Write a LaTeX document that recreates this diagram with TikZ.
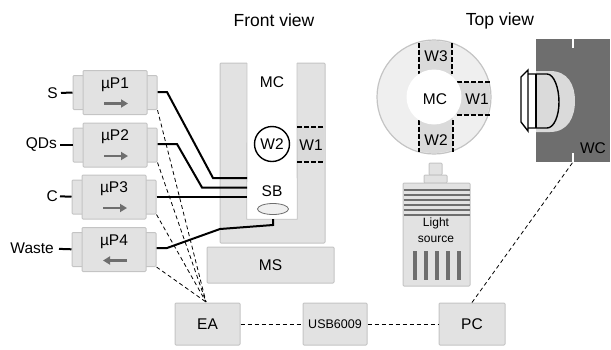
\documentclass[tikz,border=0pt]{standalone}
\usepackage{fontspec}
\setmainfont{Liberation Sans}
\usetikzlibrary{positioning,arrows.meta,shapes.geometric}
\definecolor{boxgray}{HTML}{E2E2E2}
\definecolor{edgegray}{HTML}{C4C4C4}
\definecolor{ringgray}{HTML}{EFEFEF}
\definecolor{wingray}{HTML}{DADADA}
\definecolor{markgray}{HTML}{6E6E6E}
\tikzset{
	grbox/.style={draw=edgegray,fill=boxgray,line width=1pt,inner sep=0pt,rounded corners=1pt},
	pumpbody/.style={grbox,minimum width=64pt,minimum height=44pt},
	pumptab/.style={grbox,minimum width=12pt,minimum height=34pt},
	ctrlbox/.style={grbox,minimum width=65pt,minimum height=42pt},
	lbl/.style={font=\fontsize{15.5}{15.5}\selectfont,inner sep=0pt},
	smalllbl/.style={font=\fontsize{12.5}{12.5}\selectfont,inner sep=0pt},
	titlelbl/.style={font=\fontsize{17.5}{17.5}\selectfont,inner sep=0pt},
	tube/.style={line width=2pt,black},
	wire/.style={line width=0.8pt,dash pattern=on 4pt off 3pt},
	win/.style={line width=1.4pt,dash pattern=on 4.5pt off 2.5pt},
	flow/.style={line width=2.4pt,markgray,-{Triangle[length=7pt,width=8pt]}}
}
\begin{document}
\begin{tikzpicture}[x=1pt,y=-1pt]
	\useasboundingbox (0,0) rectangle (611,349);

	% titles
	\node[titlelbl] (front) at (274,20) {Front view};
	\node[titlelbl] (top) at (500,21) {Top view};

	% pumps
	\foreach \n/\x/\y in {1/115/92.5,2/115/145,3/114/197,4/114/249.5}{
		\node[pumptab] (tl\n) at (\x-36,\y) {};
		\node[pumptab] (tr\n) at (\x+36,\y) {};
		\node[pumpbody] (p\n) at (\x,\y) {};
		\node[lbl] (pl\n) at (\x,\y-8) {µP\n};
		\coordinate (ta\n) at (\x-11,\y+11);
		\coordinate (tb\n) at (\x+13,\y+11);
	}
	\draw[flow] (ta1) -- (tb1);
	\draw[flow] (ta2) -- (tb2);
	\draw[flow] (ta3) -- (tb3);
	\draw[flow] (tb4) -- (ta4);

	% inlets
	\node[lbl,anchor=east] (s) at (58,93) {S};
	\node[lbl,anchor=east] (qd) at (57,145) {QDs};
	\node[lbl,anchor=east] (c) at (58,196) {C};
	\node[lbl,anchor=east] (waste) at (54,248) {Waste};
	\draw[tube,shorten <=3pt] (s) -- (tl1);
	\draw[tube,shorten <=3pt] (qd) -- (tl2);
	\draw[tube,shorten <=2pt] (c) -- (tl3);
	\draw[tube,shorten <=5pt] (waste) -- (tl4);

	% front view
	\node[grbox,minimum width=105pt,minimum height=180pt] (mount) at (272.5,153) {};
	\node[grbox,lbl,minimum width=127pt,minimum height=36pt] (ms) at (270.5,265) {MS};
	\fill[wingray] (297,127) rectangle (325,162);
	\node[fill=white,minimum width=50pt,minimum height=159pt,inner sep=0pt] (mc) at (272,139.5) {};
	\draw[edgegray,line width=0.8pt] (247,63) -- (mc.south west) -- (mc.south east) -- (297,63);
	\node[lbl] (mcl) at (272,82) {MC};
	\node[lbl,draw,circle,line width=1.4pt,minimum size=35pt] (w2) at (272,144) {W2};
	\node[lbl] (w1) at (311,145) {W1};
	\node[lbl] (sb) at (272,191) {SB};
	\node[draw=markgray,fill=ringgray,ellipse,line width=0.8pt,minimum width=31pt,minimum height=11pt,inner sep=0pt] (stir) at (273,209) {};
	\draw[win] (297,127) -- (325,127);
	\draw[win] (297,162) -- (325,162);

	% tubes to the cell
	\coordinate (i1) at (247,178);
	\coordinate (i2) at (247,187.5);
	\coordinate (i3) at (247,197);
	\coordinate (i4) at (273,219);
	\draw[tube] (tr1.east |- 0,92) -- (167,92) -- (213,178) -- (i1);
	\draw[tube] (tr2.east |- 0,144) -- (177,144) -- (202,187.5) -- (i2);
	\draw[tube] (tr3.east |- 0,197) -- (i3);
	\draw[tube] (tr4.east |- 0,248) -- (167,248) -- (220,229) -- (273,225) -- (i4);

	% controller row
	\node[ctrlbox,lbl] (ea) at (207.5,324) {EA};
	\node[ctrlbox,smalllbl,minimum width=64pt] (usb) at (335,324) {USB6009};
	\node[ctrlbox,lbl,minimum width=66pt] (pc) at (472,324) {PC};
	\draw[wire] (ea) -- (usb);
	\draw[wire] (usb) -- (pc);
	\coordinate (eatop) at (206,302);
	\foreach \n in {1,2,3,4}
		\draw[wire] (tr\n.south east) -- (eatop);

	% top view
	\coordinate (cen) at (434,97);
	\node[draw=edgegray,fill=ringgray,circle,line width=1.2pt,minimum size=114pt,inner sep=0pt] (ring) at (cen) {};
	\begin{scope}
		\clip (cen) circle (56);
		\fill[wingray] (419,38) rectangle (452,76);
		\fill[wingray] (419,118) rectangle (453,156);
		\fill[wingray] (456,82) rectangle (493,115);
	\end{scope}
	\draw[win] (419,43) -- (419,74);
	\draw[win] (452,43) -- (452,74);
	\draw[win] (419,120) -- (419,152);
	\draw[win] (453,120) -- (453,152);
	\draw[win] (457,82) -- (490,82);
	\draw[win] (457,115) -- (490,115);
	\node[fill=white,circle,minimum size=55pt,inner sep=0pt] (mct) at (cen) {};
	\node[lbl] (mctl) at (435,99) {MC};
	\node[lbl] (w3t) at (436,56) {W3};
	\node[lbl] (w2t) at (436,140) {W2};
	\node[lbl] (w1t) at (477,99) {W1};

	% light source
	\node[grbox,minimum width=13pt,minimum height=12pt] (tip) at (435.5,169) {};
	\node[grbox,minimum width=23pt,minimum height=8pt] (neck) at (435.5,179) {};
	\node[grbox,minimum width=67pt,minimum height=103pt] (lamp) at (436.5,234.5) {};
	\foreach \y in {190,195,200,205,210,215}
		\draw[markgray,line width=1.4pt] (403.5,\y) -- (469.5,\y);
	\node[smalllbl,font=\fontsize{12}{12}\selectfont] (ll) at (436,223) {Light};
	\node[smalllbl,font=\fontsize{12}{12}\selectfont] (ls) at (436,239) {source};
	\foreach \x in {415,426,437,448,459}
		\fill[markgray] (\x-2,251) rectangle (\x+2,280);

	% camera
	\node[fill=markgray,minimum width=74pt,minimum height=123pt,inner sep=0pt] (wc) at (573,100.5) {};
	\fill[white] (572,39) rectangle (574,48);
	\fill[white] (572,153) rectangle (574,162);
	\coordinate (wcbot) at (573,162);
	\fill[wingray] (536,71) -- (550,71) .. controls (568,71) and (575,85) .. (575,101) .. controls (575,117) and (568,132) .. (550,132) -- (536,132) -- cycle;
	\draw[line width=1.4pt] (528,74) -- (547,74) .. controls (554,74) and (559,88) .. (559,102) .. controls (559,116) and (554,128) .. (547,128) -- (528,128);
	\draw[line width=1.4pt] (536,74) -- (536,128);
	\draw[line width=1.4pt] (528,70) -- (528,131) -- (521,122) -- (521,77) -- cycle;
	\node[lbl] (wcl) at (593,148) {WC};
	\draw[wire] (pc.north) -- (wcbot);
\end{tikzpicture}
\end{document}
